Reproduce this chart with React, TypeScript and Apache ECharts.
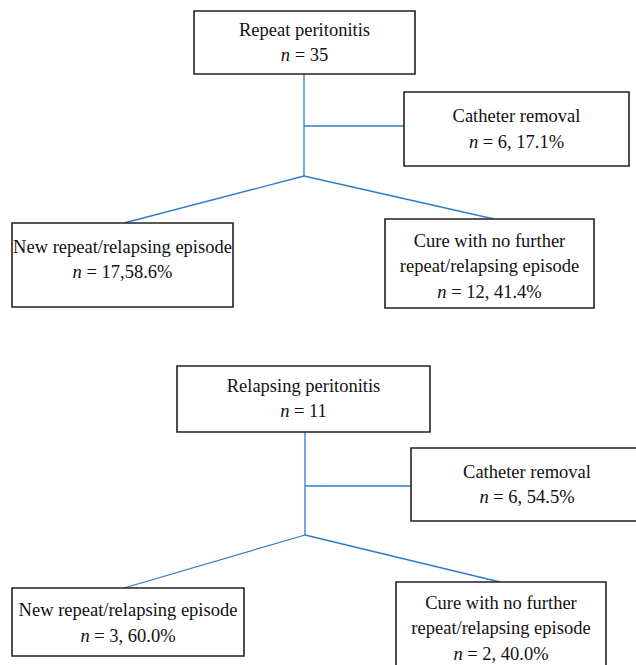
import React, { useEffect, useRef } from "react";
import * as echarts from "echarts";

// ---- Data ----
const diagramTitles = ["Repeat peritonitis", "Relapsing peritonitis"];
const totalN = [35, 11];
const removalLabel = "Catheter removal";
const removalN = [6, 6];
const removalPct = ["17.1%", "54.5%"];
const newEpisodeLabel = "New repeat/relapsing episode";
const newEpisodeN = [17, 3];
const newEpisodePct = ["58.6%", "60.0%"];
const newEpisodeSep = [",", ", "];
const cureLabel = ["Cure with no further", "repeat/relapsing episode"];
const cureN = [12, 2];
const curePct = ["41.4%", "40.0%"];

// ---- Layout (positions / sizes) ----
type Box = { x: number; y: number; w: number; h: number; ty: number };
type Layout = {
  root: Box;
  removal: Box;
  left: Box;
  right: Box;
  stemX: number;
  junctionY: number;
  branchY: number;
  leftEnd: [number, number];
  rightEnd: [number, number];
};
const layouts: Layout[] = [
  {
    root: { x: 194, y: 11, w: 221, h: 63, ty: 42.5 },
    removal: { x: 404, y: 92, w: 225, h: 74, ty: 129 },
    left: { x: 12, y: 223, w: 221, h: 84, ty: 259.5 },
    right: { x: 385, y: 219, w: 209, h: 89, ty: 266 },
    stemX: 304,
    junctionY: 176,
    branchY: 126,
    leftEnd: [124, 223],
    rightEnd: [494, 219],
  },
  {
    root: { x: 177, y: 366, w: 253, h: 66, ty: 398.5 },
    removal: { x: 411, y: 448, w: 232, h: 73, ty: 484.5 },
    left: { x: 12, y: 588, w: 232, h: 68, ty: 623 },
    right: { x: 396, y: 582, w: 210, h: 95, ty: 628 },
    stemX: 305,
    junctionY: 535,
    branchY: 486,
    leftEnd: [124, 588],
    rightEnd: [500, 582],
  },
];

const FONT = "'Liberation Serif', 'DejaVu Serif', serif";
const BLUE = "#2F7BCB";
const LH = 25.5;
const FS = 18.5;

function boxEls(b: Box, lines: string[]) {
  return [
    {
      type: "rect",
      shape: { x: b.x, y: b.y, width: b.w, height: b.h },
      style: { fill: "#fff", stroke: "#222", lineWidth: 1.6 },
      z: 2,
    },
    {
      type: "text",
      x: b.x + b.w / 2,
      y: b.ty,
      z: 3,
      style: {
        text: lines.join("\n"),
        align: "center",
        verticalAlign: "middle",
        fontFamily: FONT,
        fontSize: FS,
        lineHeight: LH,
        fill: "#111",
        rich: {
          i: { fontStyle: "italic", fontFamily: FONT, fontSize: FS, lineHeight: LH, fill: "#111" },
        },
      },
    },
  ];
}

function lineEl(x1: number, y1: number, x2: number, y2: number) {
  return {
    type: "line",
    shape: { x1, y1, x2, y2 },
    style: { stroke: BLUE, lineWidth: 1.3 },
    z: 1,
  };
}

function buildElements() {
  const els: any[] = [];
  layouts.forEach((L, i) => {
    els.push(lineEl(L.stemX, L.root.y + L.root.h, L.stemX, L.junctionY));
    els.push(lineEl(L.stemX, L.branchY, L.removal.x, L.branchY));
    els.push(lineEl(L.stemX, L.junctionY, L.leftEnd[0], L.leftEnd[1]));
    els.push(lineEl(L.stemX, L.junctionY, L.rightEnd[0], L.rightEnd[1]));
    els.push(...boxEls(L.root, [diagramTitles[i], `{i|n} = ${totalN[i]}`]));
    els.push(...boxEls(L.removal, [removalLabel, `{i|n} = ${removalN[i]}, ${removalPct[i]}`]));
    els.push(
      ...boxEls(L.left, [newEpisodeLabel, `{i|n} = ${newEpisodeN[i]}${newEpisodeSep[i]}${newEpisodePct[i]}`])
    );
    els.push(...boxEls(L.right, [...cureLabel, `{i|n} = ${cureN[i]}, ${curePct[i]}`]));
  });
  return els;
}

export default function App() {
  const ref = useRef<HTMLDivElement>(null);
  useEffect(() => {
    document.body.style.margin = "0";
    if (!ref.current) return;
    const chart = echarts.init(ref.current, undefined, { renderer: "svg" });
    chart.setOption({
      animation: false,
      backgroundColor: "#fff",
      graphic: { elements: buildElements() },
    });
    return () => chart.dispose();
  }, []);
  return <div ref={ref} style={{ width: 636, height: 665 }} />;
}
